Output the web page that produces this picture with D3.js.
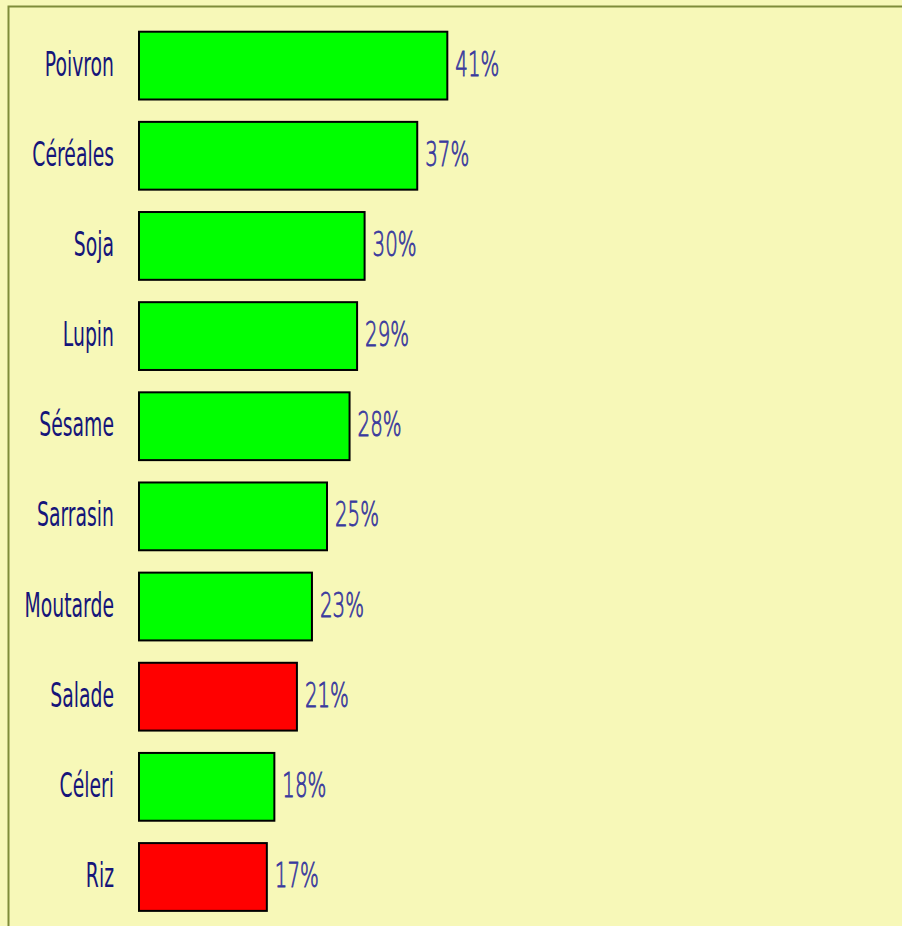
<!DOCTYPE html>
<html>
<head>
<meta charset="utf-8">
<script src="https://cdn.jsdelivr.net/npm/d3@7"></script>
<style>
  html, body { margin: 0; padding: 0; background: #f7f8b8; overflow: hidden; }
  svg { display: block; }
</style>
</head>
<body>
<svg id="chart" width="902" height="926"></svg>
<script>
const categories = ["Poivron", "Céréales", "Soja", "Lupin", "Sésame", "Sarrasin", "Moutarde", "Salade", "Céleri", "Riz"];
const values = [41, 37, 30, 29, 28, 25, 23, 21, 18, 17];
const flagged = ["Salade", "Riz"];

const data = categories.map((c, i) => ({ name: c, value: values[i] }));

const svg = d3.select("#chart");

// frame, runs off the right and bottom edges
svg.append("rect")
    .attr("x", 8.5)
    .attr("y", 6.5)
    .attr("width", 1000)
    .attr("height", 1000)
    .attr("fill", "#f7f8b8")
    .attr("stroke", "#7f8c3a")
    .attr("stroke-width", 2);

const xScale = d3.scaleLinear()
    .domain([0, 100])
    .range([139, 139 + 752]);

const yScale = d3.scaleBand()
    .domain(categories)
    .range([9, 911 + 22.6])
    .paddingInner(0.248)
    .paddingOuter(0.252);

const textScale = 0.57;

svg.selectAll(".bar")
    .data(data)
    .join("rect")
    .attr("class", "bar")
    .attr("x", xScale(0))
    .attr("y", d => yScale(d.name))
    .attr("width", d => xScale(d.value) - xScale(0))
    .attr("height", yScale.bandwidth())
    .attr("fill", d => flagged.includes(d.name) ? "#ff0000" : "#00ff00")
    .attr("stroke", "#000")
    .attr("stroke-width", 2);

svg.selectAll(".cat-label")
    .data(data)
    .join("text")
    .attr("class", "cat-label")
    .attr("transform", d => `translate(114, ${yScale(d.name) + yScale.bandwidth() / 2 + 10}) scale(${textScale}, 1)`)
    .attr("text-anchor", "end")
    .attr("font-family", "DejaVu Sans")
    .attr("font-size", 33)
    .attr("fill", "#15157a")
    .text(d => d.name);

svg.selectAll(".val-label")
    .data(data)
    .join("text")
    .attr("class", "val-label")
    .attr("transform", d => `translate(${xScale(d.value) + 8}, ${yScale(d.name) + yScale.bandwidth() / 2 + 10}) scale(0.6, 1)`)
    .attr("font-family", "DejaVu Sans")
    .attr("font-weight", 200)
    .attr("font-size", 33)
    .attr("fill", "#3a3a9e")
    .attr("stroke", "#3a3a9e")
    .attr("stroke-width", 0.9)
    .text(d => d.value + "%");
</script>
</body>
</html>
